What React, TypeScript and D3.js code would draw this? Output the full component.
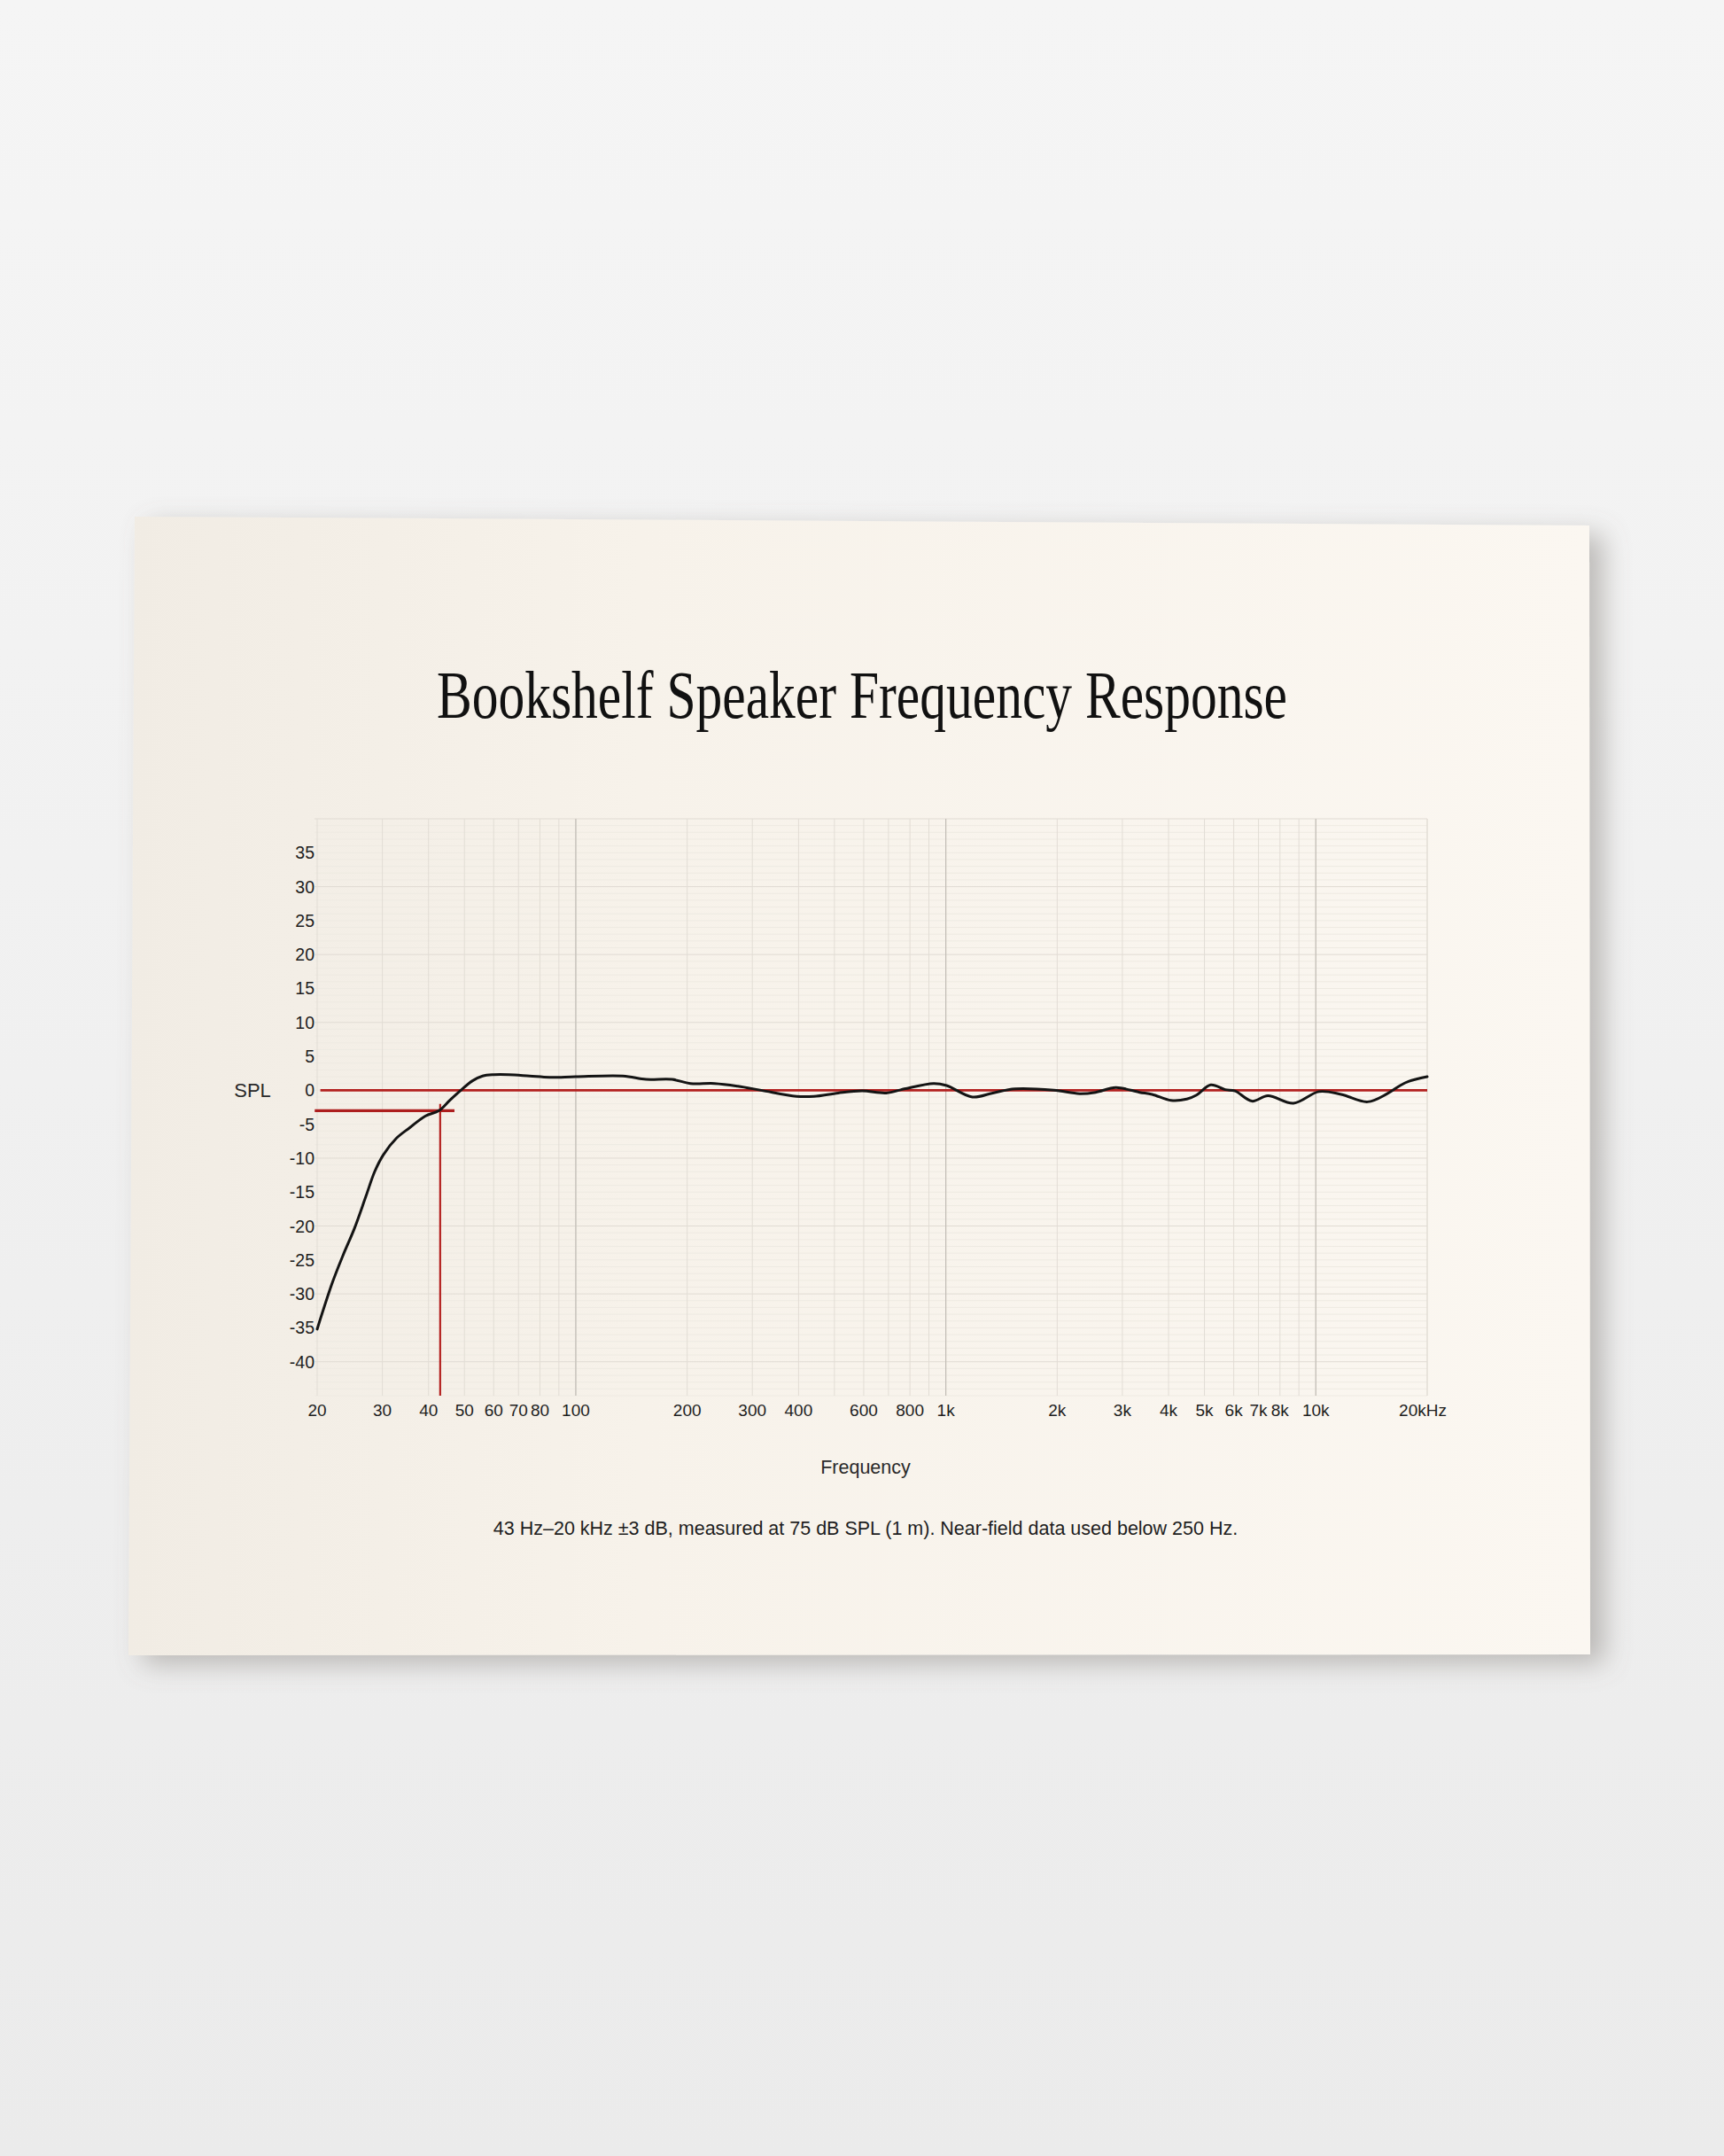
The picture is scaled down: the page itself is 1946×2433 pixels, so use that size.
import React from 'react';
import * as d3 from 'd3';

const W = 1946;
const H = 2433;

// Frequency response readings (Hz, dB SPL relative)
const freqHz = [20, 22, 23.5, 25.2, 27.1, 28.6, 30.2, 32.7, 35.6, 39.2, 42.7, 45.6, 48.9, 52.6, 56, 60, 66, 75, 85, 100, 134, 155, 182, 204, 237, 274, 317, 395, 440, 512, 594, 690, 772, 927, 1005, 1180, 1340, 1540, 1960, 2300, 2540, 2880, 3340, 3610, 4060, 4480, 4760, 5200, 5690, 6050, 6720, 7420, 8700, 10200, 11700, 13800, 15600, 16900, 17800, 20000];
const splDb = [-35.2, -28.3, -24.3, -20.4, -15.6, -12, -9.5, -7.1, -5.5, -3.8, -3, -1.5, 0, 1.4, 2.1, 2.3, 2.3, 2.1, 1.9, 2.0, 2.1, 1.6, 1.6, 1.0, 1.0, 0.6, 0, -0.9, -0.9, -0.4, -0.1, -0.4, 0.2, 1.0, 0.7, -1.0, -0.4, 0.2, 0, -0.5, -0.3, 0.4, -0.3, -0.6, -1.5, -1.3, -0.7, 0.8, 0.1, -0.1, -1.6, -0.8, -1.9, -0.2, -0.6, -1.7, -0.5, 0.7, 1.3, 2.0];

const yTicks = [35, 30, 25, 20, 15, 10, 5, 0, -5, -10, -15, -20, -25, -30, -35, -40];
const xTickValues = [20, 30, 40, 50, 60, 70, 80, 100, 200, 300, 400, 600, 800, 1000, 2000, 3000, 4000, 5000, 6000, 7000, 8000, 10000, 20000];
const xTickLabels = ['20', '30', '40', '50', '60', '70', '80', '100', '200', '300', '400', '600', '800', '1k', '2k', '3k', '4k', '5k', '6k', '7k', '8k', '10k', '20kHz'];

const refDb = 0;
const cutoffDb = -3;
const cutoffHz = 43;
const cutoffTopDb = -2;
const cutoffLineStartHz = 19.7;
const cutoffLineEndHz = 47;
const refLineStartHz = 20.4;

const titleText = 'Bookshelf Speaker Frequency Response';
const yAxisTitle = 'SPL';
const xAxisTitle = 'Frequency';
const captionText = '43 Hz\u201320 kHz \u00b13 dB, measured at 75 dB SPL (1 m). Near-field data used below 250 Hz.';

const X_DOMAIN: [number, number] = [20, 20000];
const Y_DOMAIN: [number, number] = [-45, 40];

export default function App() {
  const x = d3.scaleLog().domain(X_DOMAIN).range([358, 1611]);
  const y = d3.scaleLinear().domain(Y_DOMAIN).range([1575, 924]);

  const pts = freqHz.map((f, i) => ({ f, v: splDb[i] }));
  const line = d3
    .line<{ f: number; v: number }>()
    .x((d) => x(d.f))
    .y((d) => y(d.v))
    .curve(d3.curveCatmullRom.alpha(0.5));

  // minor vertical grid: 1..9 multiples per decade
  const vMinor: number[] = [];
  for (let dec = 10; dec <= 10000; dec *= 10) {
    for (let m = 1; m <= 9; m++) {
      const f = dec * m;
      if (f >= 20 && f <= 20000) vMinor.push(f);
    }
  }
  vMinor.push(20000);
  const vMajor = [100, 1000, 10000];

  const hLines: number[] = [];
  for (let v = -45; v <= 40; v += 1) hLines.push(v);

  const sans = "'Liberation Sans', Arial, Helvetica, sans-serif";
  const serif = "'Liberation Serif', 'Times New Roman', serif";

  const [x0, x1] = x.range();
  const [yb, yt] = y.range();

  return (
    <div style={{ position: 'absolute', left: 0, top: 0, width: W, height: H }}>
      <svg width={W} height={H} viewBox={`0 0 ${W} ${H}`} style={{ display: 'block' }}>
        <defs>
          <linearGradient id="bg" x1="0" y1="0" x2="0" y2="1">
            <stop offset="0" stopColor="#f5f5f5" />
            <stop offset="0.5" stopColor="#f0f0f0" />
            <stop offset="1" stopColor="#ebebeb" />
          </linearGradient>
          <linearGradient id="paper" x1="0" y1="0" x2="1" y2="0">
            <stop offset="0" stopColor="#f1ece4" />
            <stop offset="0.35" stopColor="#f7f2ea" />
            <stop offset="1" stopColor="#fbf7f1" />
          </linearGradient>
          <filter id="shadow" x="-10%" y="-10%" width="125%" height="125%">
            <feDropShadow dx="16" dy="10" stdDeviation="15" floodColor="#7d7771" floodOpacity="0.45" />
          </filter>
        </defs>
        <rect x={0} y={0} width={W} height={H} fill="url(#bg)" />
        <polygon
          points="152,583 1794,593 1795,1867 145,1868"
          fill="url(#paper)"
          filter="url(#shadow)"
        />

        {/* Title */}
        <text
          x={973}
          y={810}
          textAnchor="middle"
          fontFamily={serif}
          fontSize={76}
          fill="#111"
          textLength={960}
          lengthAdjust="spacingAndGlyphs"
        >
          {titleText}
        </text>

        {/* Grid */}
        <g>
          {hLines.map((v) => (
            <line
              key={'h' + v}
              x1={x0 - 3}
              x2={x1}
              y1={y(v)}
              y2={y(v)}
              stroke={v % 10 === 0 && v !== 0 ? '#e0dbd3' : '#eeeae2'}
              strokeWidth={1}
            />
          ))}
          {vMinor.map((f) => (
            <line
              key={'v' + f}
              x1={x(f)}
              x2={x(f)}
              y1={yt}
              y2={yb}
              stroke="#e2ddd5"
              strokeWidth={1}
            />
          ))}
          {vMajor.map((f) => (
            <line
              key={'V' + f}
              x1={x(f)}
              x2={x(f)}
              y1={yt}
              y2={yb}
              stroke="#c2bdb6"
              strokeWidth={1.2}
            />
          ))}
        </g>

        {/* Reference lines */}
        <line
          x1={x(refLineStartHz)}
          x2={x1}
          y1={y(refDb)}
          y2={y(refDb)}
          stroke="#b3201f"
          strokeWidth={2.6}
        />
        <line
          x1={x(cutoffLineStartHz)}
          x2={x(cutoffLineEndHz)}
          y1={y(cutoffDb)}
          y2={y(cutoffDb)}
          stroke="#ad1e1e"
          strokeWidth={3.4}
        />
        <line
          x1={x(cutoffHz)}
          x2={x(cutoffHz)}
          y1={y(cutoffTopDb)}
          y2={yb}
          stroke="#b3201f"
          strokeWidth={2.2}
        />

        {/* Response curve */}
        <path d={line(pts) || ''} fill="none" stroke="#141414" strokeWidth={3} strokeLinejoin="round" strokeLinecap="round" />

        {/* Y tick labels */}
        {yTicks.map((t) => (
          <text
            key={'yt' + t}
            x={355}
            y={y(t)}
            dy="0.36em"
            textAnchor="end"
            fontFamily={sans}
            fontSize={19.5}
            fill="#1e1e1e"
          >
            {t}
          </text>
        ))}
        <text x={285} y={y(0)} dy="0.36em" textAnchor="middle" fontFamily={sans} fontSize={22} fill="#2a2a2a">
          {yAxisTitle}
        </text>

        {/* X tick labels */}
        {xTickValues.map((f, i) => (
          <text
            key={'xt' + f}
            x={x(f) - (i === xTickValues.length - 1 ? 5 : 0)}
            y={1598}
            textAnchor="middle"
            fontFamily={sans}
            fontSize={19}
            fill="#1e1e1e"
          >
            {xTickLabels[i]}
          </text>
        ))}

        <text x={977} y={1663} textAnchor="middle" fontFamily={sans} fontSize={21.5} fill="#2a2a2a">
          {xAxisTitle}
        </text>

        <text x={977} y={1732} textAnchor="middle" fontFamily={sans} fontSize={21.5} fill="#1e1e1e">
          {captionText}
        </text>
      </svg>
    </div>
  );
}
